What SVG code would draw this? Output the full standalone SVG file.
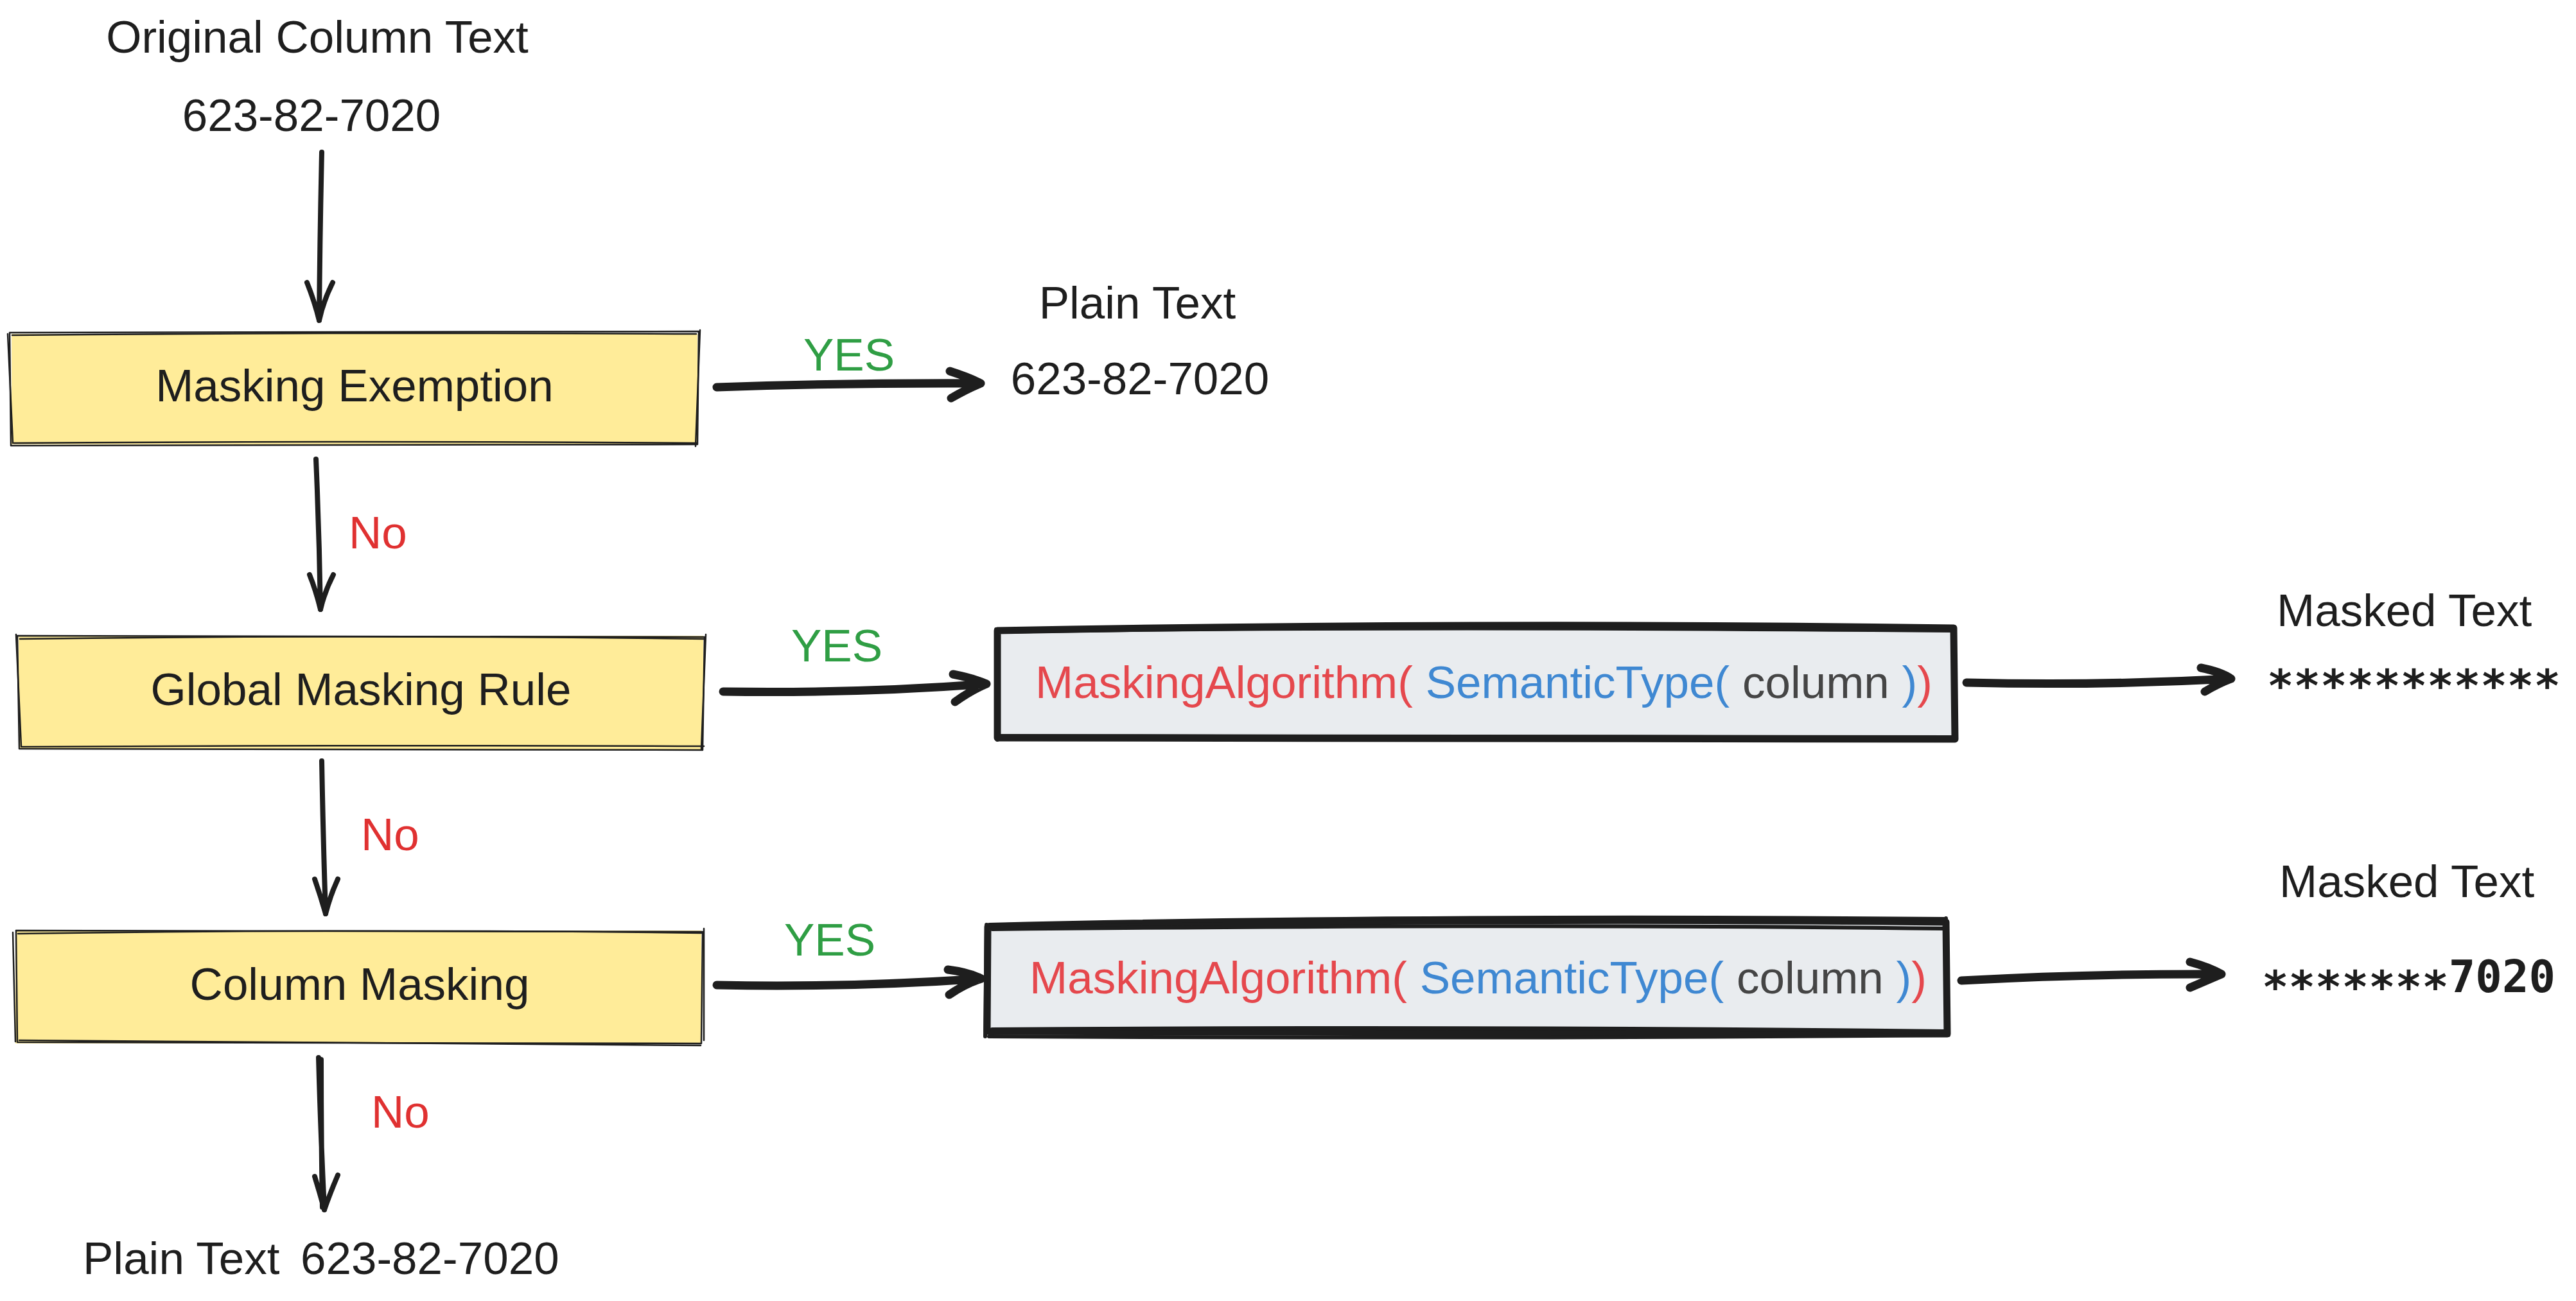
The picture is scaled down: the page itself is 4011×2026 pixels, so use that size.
<svg xmlns="http://www.w3.org/2000/svg" width="4011" height="2026" viewBox="0 0 4011 2026">
<style>
  .t { font-family: "Liberation Sans", Arial, Helvetica, sans-serif; font-size: 71px; fill: #1e1e1e; }
  .c { text-anchor: middle; }
  .yes { fill: #2f9e44; }
  .no { fill: #e03131; }
  .mono { font-family: "DejaVu Sans Mono", "Liberation Mono", monospace; font-size: 69px; font-weight: bold; fill: #1e1e1e; }
  .ybox { fill: #ffec99; }
  .ystroke { fill: none; stroke: #1e1e1e; stroke-width: 2.5; stroke-linejoin: round; stroke-linecap: round; }
  .gbox { fill: #e9ecef; }
  .gstroke { fill: none; stroke: #1e1e1e; stroke-width: 11; stroke-linejoin: round; stroke-linecap: round; }
  .gstroke2 { fill: none; stroke: #1e1e1e; stroke-width: 6; stroke-linejoin: round; stroke-linecap: round; }
  .ma { fill: #e5484d; }
  .st { fill: #3f88d2; }
  .col { fill: #454545; }
  .av { fill: none; stroke: #1e1e1e; stroke-width: 8; stroke-linecap: round; stroke-linejoin: round; }
  .ah { fill: none; stroke: #1e1e1e; stroke-width: 13; stroke-linecap: round; stroke-linejoin: round; }
</style>
<rect width="4011" height="2026" fill="#ffffff"/>

<g id="source">
  <text class="t c" x="494" y="82">Original Column Text</text>
  <text class="t c" x="485" y="204">623-82-7020</text>
</g>

<g id="masking-exemption">
  <rect class="ybox" x="18" y="520" width="1068" height="172"/>
  <path class="ystroke" d="M15 518 L1088 516 L1086 692 L17 694 Z"/>
  <path class="ystroke" d="M19 522 Q550 517 1084 520 M1090 514 L1083 695 M12 520 L20 690 M22 690 Q560 686 1085 690"/>
  <text class="t c" x="552" y="625">Masking Exemption</text>
</g>

<g id="plain-text-exempt">
  <text class="t c" x="1771" y="496">Plain Text</text>
  <text class="t c" x="1775" y="614">623-82-7020</text>
</g>

<g id="global-masking-rule">
  <rect class="ybox" x="29" y="990" width="1066" height="177"/>
  <path class="ystroke" d="M27 990 L1097 992 L1094 1168 L30 1166 Z"/>
  <path class="ystroke" d="M31 995 Q560 988 1097 995 M1099 988 L1092 1166 M25 988 L33 1162 M33 1163 Q560 1160 1096 1162"/>
  <text class="t c" x="562" y="1098">Global Masking Rule</text>
</g>

<g id="masking-algorithm-1">
  <path class="gbox" d="M1553 982 Q2300 968 3042 978 L3044 1151 L1553 1149 Z"/>
  <path class="gstroke" d="M1553 982 Q2300 968 3042 978 L3044 1151 L1553 1149 Z"/>
  <path class="gstroke2" d="M1556 984 Q2100 974 3040 982 M1551 980 L1553 1152 M3040 1148 Q2300 1150 1556 1146"/>
  <text class="t" x="1612" y="1087"><tspan class="ma">MaskingAlgorithm(</tspan> <tspan class="st">SemanticType(</tspan> <tspan class="col">column</tspan> <tspan class="st">)</tspan><tspan class="ma">)</tspan></text>
</g>

<g id="masked-text-1">
  <text class="t" x="3545" y="975">Masked Text</text>
  <text class="mono" x="3530" y="1092">***********</text>
</g>

<g id="column-masking">
  <rect class="ybox" x="24" y="1449" width="1068" height="176"/>
  <path class="ystroke" d="M25 1449 L1094 1451 L1092 1625 L27 1623 Z"/>
  <path class="ystroke" d="M28 1454 Q560 1446 1092 1453 M1096 1446 L1096 1620 M20 1452 L24 1622 M30 1620 Q560 1625 1091 1628"/>
  <text class="t c" x="560" y="1557">Column Masking</text>
</g>

<g id="masking-algorithm-2">
  <path class="gbox" d="M1538 1443 Q2300 1428 3030 1436 L3032 1610 L1537 1606 Z"/>
  <path class="gstroke" d="M1538 1443 Q2300 1428 3030 1436 L3032 1610 L1537 1606 Z"/>
  <path class="gstroke2" d="M1541 1440 Q2200 1424 3028 1431 M1545 1447 Q2400 1438 3028 1446 M3030 1430 L3034 1612 M1536 1440 L1534 1614 M1540 1614 Q2300 1618 3030 1612 M1545 1603 Q2300 1598 3030 1606"/>
  <text class="t" x="1603" y="1547"><tspan class="ma">MaskingAlgorithm(</tspan> <tspan class="st">SemanticType(</tspan> <tspan class="col">column</tspan> <tspan class="st">)</tspan><tspan class="ma">)</tspan></text>
</g>

<g id="masked-text-2">
  <text class="t" x="3549" y="1397">Masked Text</text>
  <text class="mono" x="3522" y="1545"><tspan dy="16">*******</tspan><tspan dy="-16">7020</tspan></text>
</g>

<g id="plain-text-final">
  <text class="t" y="1984"><tspan x="129">Plain Text</tspan><tspan x="468">623-82-7020</tspan></text>
</g>

<g id="connectors">
  <path class="av" d="M501 237 Q498 370 497 499 M478 440 Q490 470 497 499 M518 440 Q503 470 497 499"/>
  <path class="av" d="M492 715 Q497 830 499 949 M482 895 Q492 920 499 949 M519 895 Q506 920 499 949"/>
  <path class="av" d="M501 1185 Q503 1300 507 1423 M490 1369 Q499 1395 507 1423 M526 1369 Q514 1395 507 1423"/>
  <path class="av" d="M496 1647 Q499 1760 505 1884 M500 1650 Q500 1770 502 1880 M490 1832 Q498 1858 505 1884 M526 1830 Q514 1858 505 1884"/>
  <path class="ah" d="M1116 603 Q1320 596 1527 597 M1479 578 Q1510 588 1527 597 M1481 620 Q1505 606 1527 597"/>
  <path class="ah" d="M1126 1077 Q1340 1080 1536 1065 M1484 1050 Q1515 1056 1536 1065 M1487 1093 Q1512 1075 1536 1065"/>
  <path class="ah" d="M1116 1534 Q1330 1538 1528 1524 M1476 1510 Q1508 1514 1528 1524 M1478 1549 Q1503 1532 1528 1524"/>
  <path class="ah" d="M3062 1063 Q3270 1068 3474 1057 M3427 1040 Q3458 1046 3474 1057 M3433 1077 Q3455 1064 3474 1057"/>
  <path class="ah" d="M3054 1527 Q3260 1516 3459 1517 M3410 1498 Q3440 1506 3459 1517 M3410 1538 Q3438 1526 3459 1517"/>
  <text class="t c yes" x="1322" y="577">YES</text>
  <text class="t no" x="543" y="854">No</text>
  <text class="t c yes" x="1303" y="1030">YES</text>
  <text class="t no" x="562" y="1324">No</text>
  <text class="t c yes" x="1292" y="1488">YES</text>
  <text class="t no" x="578" y="1756">No</text>
</g>
</svg>
